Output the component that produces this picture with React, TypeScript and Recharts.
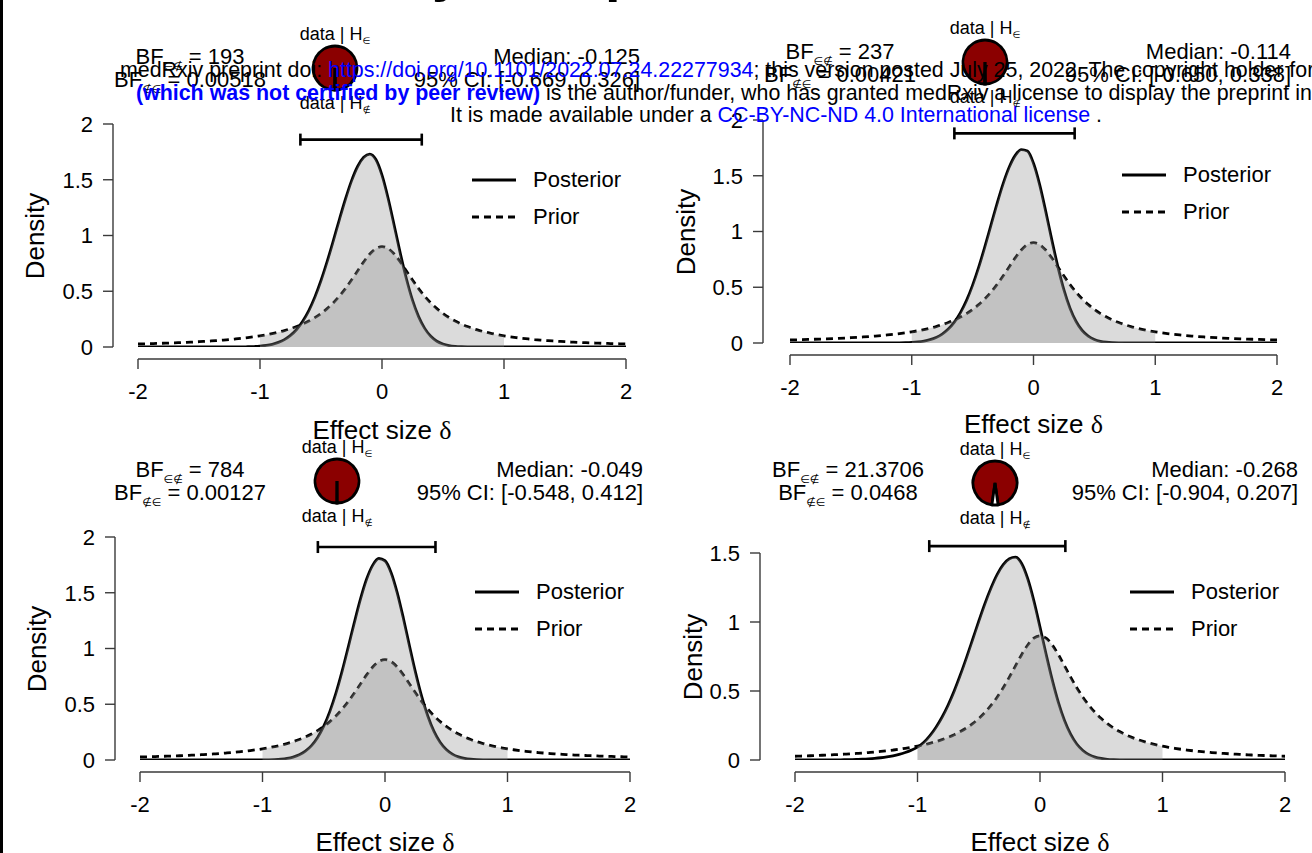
import React from 'react';
import { ComposedChart, Area, XAxis, YAxis, ReferenceLine, PieChart, Pie, Cell } from 'recharts';

// effect size grid, -2 .. 2
const DELTA = [
  -2, -1.95, -1.9, -1.85, -1.8, -1.75, -1.7, -1.65, -1.6, -1.55,
  -1.5, -1.45, -1.4, -1.35, -1.3, -1.25, -1.2, -1.15, -1.1, -1.05,
  -1, -0.95, -0.9, -0.85, -0.8, -0.75, -0.7, -0.65, -0.6, -0.55,
  -0.5, -0.45, -0.4, -0.35, -0.3, -0.25, -0.2, -0.15, -0.1, -0.05,
  0, 0.05, 0.1, 0.15, 0.2, 0.25, 0.3, 0.35, 0.4, 0.45,
  0.5, 0.55, 0.6, 0.65, 0.7, 0.75, 0.8, 0.85, 0.9, 0.95,
  1, 1.05, 1.1, 1.15, 1.2, 1.25, 1.3, 1.35, 1.4, 1.45,
  1.5, 1.55, 1.6, 1.65, 1.7, 1.75, 1.8, 1.85, 1.9, 1.95,
  2,
];

// prior density (same in every panel)
const PRIOR = [
  0.0273, 0.0287, 0.0302, 0.0318, 0.0335, 0.0354, 0.0374, 0.0396, 0.042, 0.0446,
  0.0475, 0.0506, 0.0541, 0.0579, 0.0621, 0.0668, 0.0721, 0.0779, 0.0845, 0.0919,
  0.1002, 0.1097, 0.1206, 0.133, 0.1474, 0.164, 0.1833, 0.2059, 0.2324, 0.2636,
  0.3005, 0.344, 0.3953, 0.4551, 0.5238, 0.6005, 0.6822, 0.763, 0.8335, 0.8824,
  0.9, 0.8824, 0.8335, 0.763, 0.6822, 0.6005, 0.5238, 0.4551, 0.3953, 0.344,
  0.3005, 0.2636, 0.2324, 0.2059, 0.1833, 0.164, 0.1474, 0.133, 0.1206, 0.1097,
  0.1002, 0.0919, 0.0845, 0.0779, 0.0721, 0.0668, 0.0621, 0.0579, 0.0541, 0.0506,
  0.0475, 0.0446, 0.042, 0.0396, 0.0374, 0.0354, 0.0335, 0.0318, 0.0302, 0.0287,
  0.0273,
];

// posterior densities, one per panel
const POST_TL = [
  0, 0, 0, 0, 0, 0, 0, 0, 0, 0,
  0, 0.0001, 0.0001, 0.0002, 0.0003, 0.0004, 0.0006, 0.0011, 0.0022, 0.0042,
  0.0079, 0.014, 0.024, 0.041, 0.066, 0.104, 0.157, 0.231, 0.327, 0.449,
  0.596, 0.765, 0.95, 1.141, 1.325, 1.49, 1.619, 1.701, 1.73, 1.681,
  1.541, 1.334, 1.09, 0.84, 0.612, 0.42, 0.272, 0.167, 0.096, 0.052,
  0.027, 0.013, 0.006, 0.0026, 0.001, 0.0004, 0.0001, 0, 0, 0,
  0, 0, 0, 0, 0, 0, 0, 0, 0, 0,
  0, 0, 0, 0, 0, 0, 0, 0, 0, 0,
  0,
];
const POST_TR = [
  0, 0, 0, 0, 0, 0, 0, 0, 0, 0,
  0, 0, 0.0001, 0.0001, 0.0002, 0.0003, 0.0004, 0.0007, 0.0014, 0.0027,
  0.0052, 0.0097, 0.0173, 0.0298, 0.0497, 0.08, 0.125, 0.187, 0.272, 0.382,
  0.519, 0.68, 0.862, 1.055, 1.248, 1.427, 1.576, 1.683, 1.735, 1.721,
  1.612, 1.423, 1.183, 0.927, 0.685, 0.476, 0.312, 0.193, 0.112, 0.062,
  0.032, 0.0155, 0.0071, 0.0031, 0.0012, 0.0004, 0.0001, 0, 0, 0,
  0, 0, 0, 0, 0, 0, 0, 0, 0, 0,
  0, 0, 0, 0, 0, 0, 0, 0, 0, 0,
  0,
];
const POST_BL = [
  0, 0, 0, 0, 0, 0, 0, 0, 0, 0,
  0, 0, 0, 0, 0, 0, 0, 0, 0.0002, 0.0004,
  0.0008, 0.0018, 0.0037, 0.0075, 0.0144, 0.0265, 0.0468, 0.0795, 0.129, 0.202,
  0.303, 0.436, 0.602, 0.797, 1.013, 1.235, 1.445, 1.623, 1.748, 1.807,
  1.787, 1.68, 1.499, 1.271, 1.023, 0.782, 0.568, 0.392, 0.256, 0.159,
  0.094, 0.053, 0.028, 0.0142, 0.0068, 0.0031, 0.0013, 0.0005, 0.0002, 0,
  0, 0, 0, 0, 0, 0, 0, 0, 0, 0,
  0, 0, 0, 0, 0, 0, 0, 0, 0, 0,
  0,
];
const POST_BR = [
  0, 0, 0, 0, 0.0003, 0.0005, 0.0008, 0.0012, 0.0018, 0.0027,
  0.004, 0.0058, 0.0083, 0.0117, 0.0163, 0.0224, 0.0305, 0.041, 0.0545, 0.0715,
  0.093, 0.127, 0.175, 0.236, 0.31, 0.398, 0.501, 0.617, 0.742, 0.873,
  1.005, 1.132, 1.246, 1.343, 1.415, 1.458, 1.47, 1.424, 1.313, 1.153,
  0.963, 0.766, 0.58, 0.417, 0.286, 0.187, 0.116, 0.069, 0.039, 0.021,
  0.011, 0.0051, 0.0024, 0.001, 0.0004, 0, 0, 0, 0, 0,
  0, 0, 0, 0, 0, 0, 0, 0, 0, 0,
  0, 0, 0, 0, 0, 0, 0, 0, 0, 0,
  0,
];
const POSTERIORS = [POST_TL, POST_TR, POST_BL, POST_BR];

// interval hypothesis H∈ : -1 <= delta <= 1
const RANGE = [-1, 1];

const X_TICKS = [-2, -1, 0, 1, 2];
const Y_TICKS = [[0, 0.5, 1, 1.5, 2], [0, 0.5, 1, 1.5, 2], [0, 0.5, 1, 1.5, 2], [0, 0.5, 1, 1.5]];

const BF_IN = [193, 237, 784, 21.3706];
const BF_IN_LABEL = ['193', '237', '784', '21.3706'];
const BF_OUT_LABEL = ['0.00518', '0.00421', '0.00127', '0.0468'];
const MEDIAN = ['-0.125', '-0.114', '-0.049', '-0.268'];
const CI_LOW = [-0.669, -0.65, -0.548, -0.904];
const CI_HIGH = [0.326, 0.338, 0.412, 0.207];

// where each panel sits on the page
const LAYOUT = [
  { plotL: 138, plotR: 626, plotT: 124, plotB: 347, axisX: 113, yMax: 2, ciY: 1.86, bfX: 190, bfY: 57, pieX: 335, pieY: 68, medR: 640, legX: 472, legY: 180, densX: 35, xLabY: 430 },
  { plotL: 790, plotR: 1277, plotT: 120, plotB: 343, axisX: 763, yMax: 2, ciY: 1.88, bfX: 840, bfY: 52, pieX: 985, pieY: 62, medR: 1291, legX: 1122, legY: 175, densX: 686, xLabY: 424 },
  { plotL: 140, plotR: 630, plotT: 537, plotB: 760, axisX: 115, yMax: 2, ciY: 1.91, bfX: 190, bfY: 470, pieX: 337, pieY: 481, medR: 643, legX: 475, legY: 592, densX: 37, xLabY: 842 },
  { plotL: 795, plotR: 1285, plotT: 553, plotB: 760, axisX: 760, yMax: 1.5, ciY: 1.55, bfX: 848, bfY: 470, pieX: 995, pieY: 483, medR: 1298, legX: 1130, legY: 592, densX: 693, xLabY: 842 },
];

const FONT = '"Liberation Sans", Arial, Helvetica, sans-serif';
const SERIF = '"Liberation Serif", "DejaVu Serif", serif';
const AX = { stroke: '#3a3a3a', strokeWidth: 1.4 };
const SHADE = '#888888';
const LW = 2.8;

const Txt = ({ x, y, size = 22, lh, align = 'left', children, style }: any) => {
  const tx = align === 'center' ? 'translateX(-50%)' : align === 'right' ? 'translateX(-100%)' : undefined;
  const h = lh ?? Math.round(size * 1.2);
  return (
    <div style={{ position: 'absolute', left: x, top: y - h / 2, lineHeight: `${h}px`, fontSize: size, fontFamily: FONT, whiteSpace: 'nowrap', color: '#000', transform: tx, ...style }}>
      {children}
    </div>
  );
};

const Sub = ({ children, size = 11, drop = 6 }: any) => (
  <span style={{ fontSize: size, position: 'relative', top: drop, fontFamily: '"DejaVu Sans", sans-serif' }}>{children}</span>
);

const CiBar = (props: any) => {
  const { x1, y1, x2, y2 } = props;
  return (
    <g>
      <line x1={x1} y1={y1} x2={x2} y2={y2} stroke="#000" strokeWidth={2.6} />
      <line x1={x1} y1={y1 - 6} x2={x1} y2={y1 + 6} stroke="#000" strokeWidth={2.6} />
      <line x1={x2} y1={y2 - 6} x2={x2} y2={y2 + 6} stroke="#000" strokeWidth={2.6} />
    </g>
  );
};

const Panel = ({ idx }: { idx: number }) => {
  const L = LAYOUT[idx];
  const post = POSTERIORS[idx];
  const rows = DELTA.map((d, i) => {
    const inside = d >= RANGE[0] && d <= RANGE[1];
    return { d, prior: PRIOR[i], post: post[i], priorIn: inside ? PRIOR[i] : null, postIn: inside ? post[i] : null };
  });

  const left = L.axisX - 75;
  const top = L.plotT - 40;
  const width = L.plotR + 20 - left;
  const height = L.plotB + 70 - top;
  const tickStyle = { fontSize: 22, fill: '#000', fontFamily: FONT };

  // share of the pie for data | H∉
  const pOut = 1 / (1 + BF_IN[idx]);
  const startAngle = -90 + 180 * pOut;
  const pieData = [
    { name: 'data | H∈', value: BF_IN[idx] },
    { name: 'data | H∉', value: 1 },
  ];

  return (
    <>
      <div style={{ position: 'absolute', left, top }}>
        <ComposedChart width={width} height={height} data={rows} margin={{ top: 40, right: 20, bottom: 13, left: 5 }}>
          <XAxis xAxisId="a_pad" dataKey="d" type="number" domain={[-2, 2]} height={12} axisLine={false} tickLine={false} tick={false} allowDataOverflow />
          <XAxis xAxisId="b_main" dataKey="d" type="number" domain={[-2, 2]} ticks={X_TICKS} interval={0} height={45}
            tickSize={10} tickMargin={14} axisLine={AX} tickLine={AX} tick={tickStyle} allowDataOverflow />
          <YAxis yAxisId="a_pad" type="number" domain={[0, L.yMax]} width={L.plotL - L.axisX} axisLine={false} tickLine={false} tick={false} allowDataOverflow />
          <YAxis yAxisId="b_main" type="number" domain={[0, L.yMax]} ticks={Y_TICKS[idx]} interval={0} width={70}
            tickSize={10} tickMargin={10} axisLine={AX} tickLine={AX} tick={tickStyle} allowDataOverflow />

          <Area xAxisId="b_main" yAxisId="b_main" dataKey="post" type="monotone" stroke="#000" strokeWidth={LW}
            fill="none" dot={false} activeDot={false} isAnimationActive={false} />
          <Area xAxisId="b_main" yAxisId="b_main" dataKey="prior" type="monotone" stroke="#000" strokeWidth={LW} strokeDasharray="7 5"
            fill="none" dot={false} activeDot={false} isAnimationActive={false} />
          <Area xAxisId="b_main" yAxisId="b_main" dataKey="priorIn" type="monotone" stroke="none" fill={SHADE} fillOpacity={0.3}
            dot={false} activeDot={false} isAnimationActive={false} />
          <Area xAxisId="b_main" yAxisId="b_main" dataKey="postIn" type="monotone" stroke="none" fill={SHADE} fillOpacity={0.3}
            dot={false} activeDot={false} isAnimationActive={false} />

          <ReferenceLine xAxisId="b_main" yAxisId="b_main" ifOverflow="visible"
            segment={[{ x: CI_LOW[idx], y: L.ciY }, { x: CI_HIGH[idx], y: L.ciY }]} shape={CiBar} />
        </ComposedChart>
      </div>

      {/* legend */}
      <svg style={{ position: 'absolute', left: L.legX, top: L.legY - 20 }} width={50} height={60}>
        <line x1={0} y1={20} x2={44} y2={20} stroke="#000" strokeWidth={2.8} />
        <line x1={0} y1={57} x2={44} y2={57} stroke="#000" strokeWidth={2.8} strokeDasharray="7 5" />
      </svg>
      <Txt x={L.legX + 61} y={L.legY}>Posterior</Txt>
      <Txt x={L.legX + 61} y={L.legY + 37}>Prior</Txt>

      {/* axis titles */}
      <div style={{ position: 'absolute', left: L.densX, top: (L.plotT + L.plotB) / 2, transform: 'translate(-50%, -50%) rotate(-90deg)', fontSize: 26, lineHeight: '28px', fontFamily: FONT, whiteSpace: 'nowrap' }}>
        Density
      </div>
      <Txt x={(L.plotL + L.plotR) / 2} y={L.xLabY} size={26} lh={20} align="center">
        Effect size <span style={{ fontFamily: SERIF }}>δ</span>
      </Txt>

      {/* Bayes factor header */}
      <Txt x={L.bfX} y={L.bfY} align="center">BF<Sub>∈∉</Sub> = {BF_IN_LABEL[idx]}</Txt>
      <Txt x={L.bfX} y={L.bfY + 23} align="center">BF<Sub>∉∈</Sub> = {BF_OUT_LABEL[idx]}</Txt>
      <Txt x={L.medR} y={L.bfY} align="right">Median: {MEDIAN[idx]}</Txt>
      <Txt x={L.medR} y={L.bfY + 23} align="right">95% CI: [{CI_LOW[idx].toFixed(3)}, {CI_HIGH[idx].toFixed(3)}]</Txt>

      <Txt x={L.pieX} y={L.pieY - 34} size={18} align="center">data | H<Sub size={9} drop={4}>∈</Sub></Txt>
      <Txt x={L.pieX} y={L.pieY + 35} size={18} align="center">data | H<Sub size={9} drop={4}>∉</Sub></Txt>
      <div style={{ position: 'absolute', left: L.pieX - 26, top: L.pieY - 26 }}>
        <PieChart width={52} height={52} margin={{ top: 0, right: 0, bottom: 0, left: 0 }}>
          <Pie data={pieData} dataKey="value" cx={26} cy={26} outerRadius={22} startAngle={startAngle} endAngle={startAngle + 360}
            stroke="#000" strokeWidth={2.8} isAnimationActive={false}>
            <Cell fill="#8b0000" stroke="#000" strokeWidth={2.8} />
            <Cell fill="#ffffff" stroke="#000" strokeWidth={2.8} />
          </Pie>
        </PieChart>
      </div>
    </>
  );
};

const WM_CENTER = 776;
const wmLine = (y: number): React.CSSProperties => ({
  position: 'absolute', left: WM_CENTER - 1000, width: 2000, top: y - 12, lineHeight: '24px', fontSize: 21.4,
  textAlign: 'center', fontFamily: FONT, whiteSpace: 'nowrap', color: '#000',
});

export default function App() {
  return (
    <div style={{ position: 'absolute', left: 0, top: 0, width: 1312, height: 853, background: '#fff', overflow: 'hidden' }}>
      <div style={{ position: 'absolute', left: 0, top: 0, width: 3, height: 853, background: '#000' }} />
      {/* descenders of the cut-off page title */}
      <div style={{ position: 'absolute', left: 432, top: -57, fontSize: 56, lineHeight: '56px', fontWeight: 700, fontFamily: FONT }}>y</div>
      <div style={{ position: 'absolute', left: 605, top: -57, fontSize: 56, lineHeight: '56px', fontWeight: 700, fontFamily: FONT }}>p</div>

      {[0, 1, 2, 3].map((i) => <Panel key={i} idx={i} />)}

      {/* medRxiv watermark */}
      <div style={wmLine(70)}>
        medRxiv preprint doi: <span style={{ color: '#0000ff' }}>https://doi.org/10.1101/2022.07.24.22277934</span>; this version posted July 25, 2022. The copyright holder for this preprint
      </div>
      <div style={wmLine(93)}>
        <b style={{ color: '#0000ff' }}>(which was not certified by peer review)</b> is the author/funder, who has granted medRxiv a license to display the preprint in perpetuity.
      </div>
      <div style={wmLine(115)}>
        It is made available under a <span style={{ color: '#0000ff' }}>CC-BY-NC-ND 4.0 International license</span> .
      </div>
    </div>
  );
}
